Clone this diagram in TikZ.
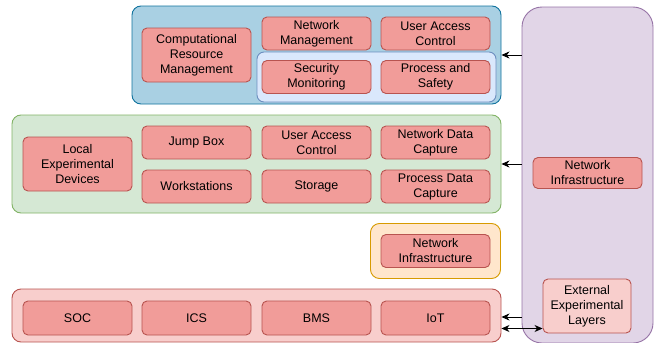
\documentclass[tikz,border=0pt]{standalone}
\usepackage{fontspec}
\setmainfont{Liberation Sans}
\usetikzlibrary{arrows.meta}
\definecolor{redfill}{HTML}{F19C99}
\definecolor{redlight}{HTML}{F8CECC}
\definecolor{redstroke}{HTML}{B85450}
\definecolor{bluefill}{HTML}{A9D0E3}
\definecolor{bluestroke}{HTML}{10739E}
\definecolor{lbfill}{HTML}{DAE8FC}
\definecolor{lbstroke}{HTML}{6C8EBF}
\definecolor{greenfill}{HTML}{D5E8D4}
\definecolor{greenstroke}{HTML}{82B366}
\definecolor{orangefill}{HTML}{FFE6CC}
\definecolor{orangestroke}{HTML}{D79B00}
\definecolor{purplefill}{HTML}{E1D5E7}
\definecolor{purplestroke}{HTML}{9673A6}
\tikzset{
  base/.style={draw, line width=0.9pt, inner sep=0pt, align=center,
    font=\fontsize{12.5}{15}\selectfont},
  box/.style={base, draw=redstroke, fill=redfill, rounded corners=5pt,
    minimum width=109pt, minimum height=33pt},
  tallbox/.style={box, minimum height=54pt},
  cont/.style={base, rounded corners=9pt},
  tip/.tip={Stealth[length=8pt,width=7pt,inset=2.5pt]},
  arr/.style={line width=0.9pt, -tip},
  dbl/.style={line width=0.9pt, tip-tip}
}
\begin{document}
\begin{tikzpicture}[x=1pt,y=-1pt]
\useasboundingbox (0,0) rectangle (654,343);
% containers
\node[cont, draw=purplestroke, fill=purplefill, rounded corners=20pt, minimum width=131pt, minimum height=336pt] (purple) at (587.5,175) {};
\node[cont, draw=bluestroke, fill=bluefill, minimum width=369pt, minimum height=98pt] (blue) at (316.5,55) {};
\node[cont, draw=lbstroke, fill=lbfill, rounded corners=7pt, minimum width=239pt, minimum height=50pt] (inner) at (376.5,77) {};
\node[cont, draw=greenstroke, fill=greenfill, minimum width=489pt, minimum height=98pt] (green) at (256.5,164) {};
\node[cont, draw=orangestroke, fill=orangefill, minimum width=130pt, minimum height=55pt] (orange) at (435.5,251) {};
\node[cont, draw=redstroke, fill=redlight, minimum width=489pt, minimum height=53pt] (red) at (256.5,315.5) {};
% blue nodes
\node[tallbox] (crm) at (196.5,55) {Computational\\Resource\\Management};
\node[box] (nm) at (316.5,33.5) {Network\\Management};
\node[box] (uac1) at (435.5,33.5) {User Access\\Control};
\node[box] (sm) at (316.5,77) {Security\\Monitoring};
\node[box] (ps) at (435.5,77) {Process and\\Safety};
% green nodes
\node[tallbox] (led) at (77.5,164) {Local\\Experimental\\Devices};
\node[box] (jb) at (196.5,142.5) {Jump Box};
\node[box] (uac2) at (316.5,142.5) {User Access\\Control};
\node[box] (ndc) at (435.5,142.5) {Network Data\\Capture};
\node[box] (ws) at (196.5,186.5) {Workstations};
\node[box] (st) at (316.5,186.5) {Storage};
\node[box] (pdc) at (435.5,186.5) {Process Data\\Capture};
% orange node
\node[box] (ni2) at (435.5,251) {Network\\Infrastructure};
% red nodes
\node[box, minimum height=34pt] (soc) at (77.5,318) {SOC};
\node[box, minimum height=34pt] (ics) at (196.5,318) {ICS};
\node[box, minimum height=34pt] (bms) at (316.5,318) {BMS};
\node[box, minimum height=34pt] (iot) at (435.5,318) {IoT};
% purple nodes
\node[box, minimum height=31pt] (ni1) at (587.5,173) {Network\\Infrastructure};
\node[box, fill=redlight, minimum width=88pt, minimum height=54pt] (eel) at (587,306) {External\\Experimental\\Layers};
% connectors
\draw[arr] (purple.west |- blue.east) -- (blue.east);
\draw[arr] (purple.west |- green.east) -- (green.east);
\draw[arr] ([yshift=-1.5pt]red.east -| purple.west) -- ([yshift=-1.5pt]red.east);
\draw[dbl] ([yshift=-13pt]red.east) -- ([yshift=-13pt]red.east -| eel.west);
\end{tikzpicture}
\end{document}
